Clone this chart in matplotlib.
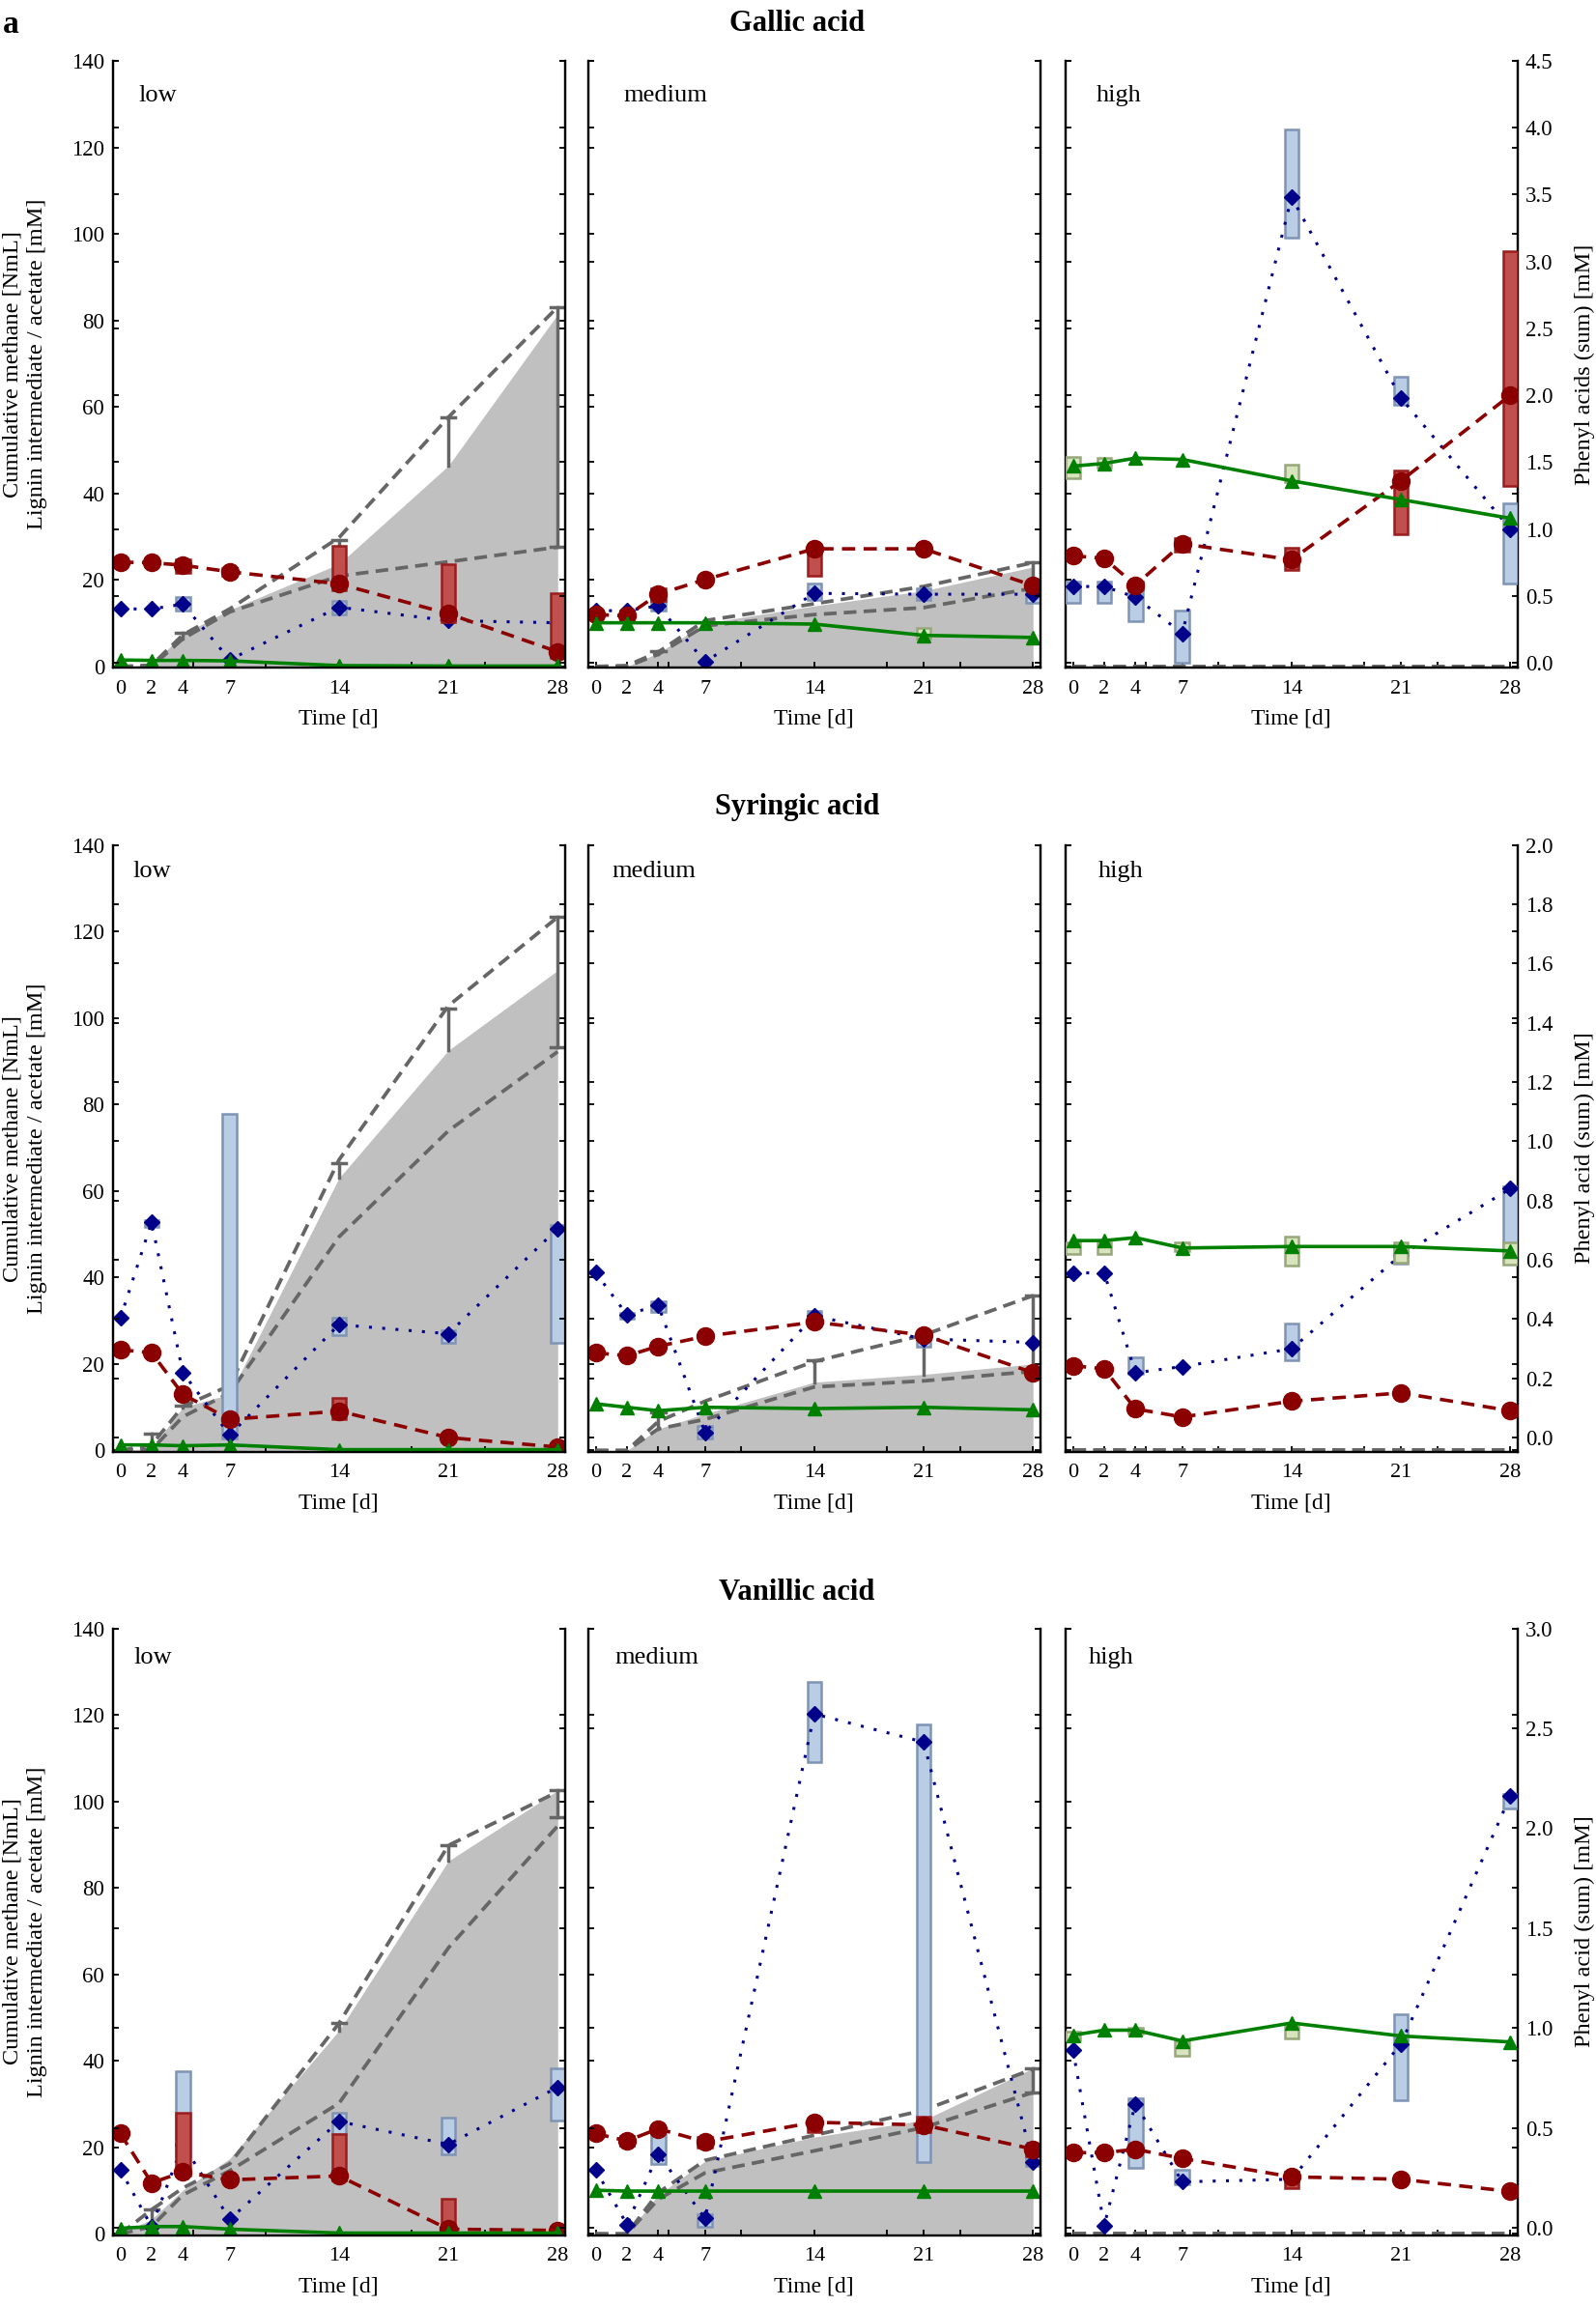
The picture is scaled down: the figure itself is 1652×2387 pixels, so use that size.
import numpy as np
import matplotlib.pyplot as plt

plt.rcParams['font.family'] = ['Liberation Serif', 'DejaVu Serif']

days = [0, 2, 4, 7, 14, 21, 28]
acids = ['Gallic acid', 'Syringic acid', 'Vanillic acid']
levels = ['low', 'medium', 'high']
right_names = ['Phenyl acids (sum) [mM]', 'Phenyl acid (sum) [mM]', 'Phenyl acid (sum) [mM]']
left_ticks = [0, 20, 40, 60, 80, 100, 120, 140]
right_ticks_gal = [0.0, 0.5, 1.0, 1.5, 2.0, 2.5, 3.0, 3.5, 4.0, 4.5]
right_ticks_syr = [0.0, 0.2, 0.4, 0.6, 0.8, 1.0, 1.2, 1.4, 1.6, 1.8, 2.0]
right_ticks_van = [0.0, 0.5, 1.0, 1.5, 2.0, 2.5, 3.0]
zeros = [0, 0, 0, 0, 0, 0, 0]

# ---- Gallic acid ----
gal_low_fill = [0, 0.3, 7.5, 13.1, 23.7, 46.4, 81.4]
gal_low_hi = [0, 0.3, 7.3, 13.3, 29.8, 57.6, 83.1]
gal_low_lo = [0, 0, 6.4, 12.6, 20.9, 24.2, 27.6]
gal_low_err = [(4, 6.4, 7.9), (14, 23.7, 29.2), (21, 46.4, 57.6), (28, 27.6, 83.1)]
gal_low_red = [24.1, 24.0, 23.4, 21.9, 19.1, 12.2, 3.4]
gal_low_red_box = [(4, 21.7, 24.7), (7, 21.0, 22.7), (14, 17.6, 27.9), (21, 10.3, 23.7), (28, 2.0, 17.0)]
gal_low_blue = [13.3, 13.3, 14.4, 1.6, 13.7, 10.6, 10.1]
gal_low_blue_box = [(4, 13.0, 16.0), (14, 12.0, 15.2)]
gal_low_green = [1.5, 1.4, 1.4, 1.3, 0.2, 0.1, 0.1]
gal_low_green_box = []

gal_med_fill = [0, 0, 3.1, 10.0, 14.0, 17.5, 23.0]
gal_med_hi = [0, 0.2, 3.3, 10.6, 14.5, 18.5, 24.0]
gal_med_lo = [0, 0, 2.8, 9.4, 12.0, 13.6, 18.1]
gal_med_err = [(4, 2.8, 3.6), (28, 18.1, 24.2)]
gal_med_red = [12.0, 11.7, 16.7, 20.1, 27.2, 27.2, 18.7]
gal_med_red_box = [(4, 15.1, 18.1), (14, 20.9, 27.6)]
gal_med_blue = [12.9, 12.9, 14.0, 1.1, 16.9, 16.7, 16.7]
gal_med_blue_box = [(4, 12.9, 14.9), (14, 15.3, 19.2), (21, 15.3, 18.1), (28, 14.7, 18.6)]
gal_med_green = [10.1, 10.1, 10.1, 10.1, 9.8, 7.2, 6.7]
gal_med_green_box = [(21, 6.4, 8.9)]

gal_high_red = [0.80, 0.78, 0.58, 0.89, 0.77, 1.36, 2.00]
gal_high_red_box = [(4, 0.55, 0.61), (7, 0.83, 0.93), (14, 0.69, 0.86), (21, 0.96, 1.44), (28, 1.32, 3.08)]
gal_high_blue = [0.57, 0.57, 0.49, 0.22, 3.48, 1.98, 1.00]
gal_high_blue_box = [(0, 0.45, 0.61), (2, 0.45, 0.61), (4, 0.31, 0.54), (7, 0.0, 0.39),
                     (14, 3.18, 3.99), (21, 1.93, 2.14), (28, 0.59, 1.19)]
gal_high_green = [1.47, 1.49, 1.53, 1.52, 1.36, 1.22, 1.08]
gal_high_green_box = [(0, 1.38, 1.54), (2, 1.46, 1.53), (14, 1.35, 1.48)]

# ---- Syringic acid ----
syr_low_fill = [0, 0.5, 10.0, 13.0, 63.0, 92.5, 111.0]
syr_low_hi = [0, 1.3, 10.2, 15.0, 67.2, 102.8, 123.3]
syr_low_lo = [0, 0.2, 7.8, 13.3, 49.4, 73.9, 92.2]
syr_low_err = [(2, 0.5, 3.9), (4, 10.0, 10.4), (14, 63.0, 66.4), (21, 92.5, 102.2), (28, 93.3, 123.3)]
syr_low_red = [23.3, 22.6, 13.0, 7.2, 9.1, 3.0, 0.8]
syr_low_red_box = [(14, 7.2, 12.2)]
syr_low_blue = [30.6, 52.8, 18.0, 3.6, 29.1, 27.0, 51.3]
syr_low_blue_box = [(2, 51.7, 53.3), (7, 2.8, 77.8), (14, 26.7, 30.6), (21, 25.0, 27.8), (28, 25.0, 52.2)]
syr_low_green = [1.3, 1.3, 1.1, 1.3, 0.2, 0.2, 0.2]
syr_low_green_box = []

syr_med_fill = [0, 0, 5.0, 8.5, 15.8, 17.6, 20.0]
syr_med_hi = [0, 0, 6.7, 11.4, 20.6, 26.7, 35.8]
syr_med_lo = [0, 0, 5.0, 7.2, 14.7, 16.1, 18.3]
syr_med_err = [(4, 5.0, 8.9), (14, 15.8, 20.9), (21, 17.6, 27.2), (28, 18.3, 35.8)]
syr_med_red = [22.6, 21.9, 24.1, 26.4, 29.7, 26.7, 18.0]
syr_med_red_box = []
syr_med_blue = [41.1, 31.4, 33.6, 4.2, 31.1, 25.8, 25.0]
syr_med_blue_box = [(2, 30.5, 31.9), (4, 32.0, 34.4), (7, 2.8, 5.6), (14, 29.4, 32.2), (21, 23.9, 27.2)]
syr_med_green = [10.8, 10.0, 9.2, 10.0, 9.7, 10.0, 9.4]
syr_med_green_box = []

syr_high_red = [0.243, 0.232, 0.097, 0.070, 0.123, 0.151, 0.091]
syr_high_red_box = []
syr_high_blue = [0.556, 0.556, 0.219, 0.240, 0.30, 0.616, 0.84]
syr_high_blue_box = [(4, 0.216, 0.27), (14, 0.26, 0.386), (21, 0.586, 0.646), (28, 0.589, 0.848)]
syr_high_green = [0.665, 0.665, 0.675, 0.64, 0.645, 0.645, 0.63]
syr_high_green_box = [(0, 0.62, 0.66), (2, 0.62, 0.66), (7, 0.63, 0.66), (14, 0.58, 0.68),
                      (21, 0.59, 0.66), (28, 0.585, 0.66)]

# ---- Vanillic acid ----
van_low_fill = [0, 3.4, 10.1, 17.4, 47.0, 86.2, 102.5]
van_low_hi = [0, 5.6, 10.6, 16.2, 48.7, 89.8, 102.2]
van_low_lo = [0, 1.7, 9.0, 14.6, 30.2, 66.1, 94.3]
van_low_err = [(2, 3.4, 5.6), (14, 47.0, 48.7), (21, 86.2, 89.8), (28, 96.3, 102.5)]
van_low_red = [23.2, 11.8, 14.3, 12.5, 13.4, 1.1, 0.8]
van_low_red_box = [(4, 13.4, 28.0), (14, 12.3, 23.0), (21, 0.2, 8.1), (28, 0.2, 1.7)]
van_low_blue = [14.8, 1.7, 20.7, 3.4, 26.0, 20.7, 33.9]
van_low_blue_box = [(4, 18.0, 37.5), (14, 23.0, 28.0), (21, 18.5, 26.9), (28, 26.3, 38.3)]
van_low_green = [1.3, 1.7, 1.7, 1.1, 0.2, 0.2, 0.2]
van_low_green_box = []

van_med_fill = [0, 0, 9.0, 16.8, 22.4, 26.3, 38.3]
van_med_hi = [0, 0, 9.5, 17.0, 22.8, 28.6, 38.1]
van_med_lo = [0, 0, 8.0, 14.1, 19.2, 24.6, 32.7]
van_med_err = [(28, 32.7, 38.3)]
van_med_red = [23.2, 21.5, 24.3, 21.3, 25.8, 25.2, 19.6]
van_med_red_box = [(2, 20.5, 22.7), (7, 20.0, 22.4), (14, 23.5, 26.3), (21, 23.5, 27.2), (28, 17.9, 20.7)]
van_med_blue = [14.8, 2.2, 18.5, 3.6, 120.2, 113.7, 16.6]
van_med_blue_box = [(4, 16.2, 23.0), (7, 1.7, 4.5), (14, 109.0, 127.7), (21, 16.5, 117.8), (28, 15.7, 17.9)]
van_med_green = [10.1, 9.9, 9.9, 9.9, 9.9, 9.9, 9.9]
van_med_green_box = []

van_high_red = [0.376, 0.376, 0.393, 0.347, 0.255, 0.243, 0.182]
van_high_red_box = [(14, 0.20, 0.28)]
van_high_blue = [0.89, 0.012, 0.62, 0.23, 0.243, 0.92, 2.16]
van_high_blue_box = [(4, 0.30, 0.65), (7, 0.22, 0.29), (21, 0.64, 1.07), (28, 2.10, 2.17)]
van_high_green = [0.964, 0.989, 0.989, 0.935, 1.025, 0.96, 0.93]
van_high_green_box = [(0, 0.94, 0.98), (4, 0.97, 1.0), (7, 0.86, 0.935), (14, 0.95, 1.01)]

# panel table: (fill, hi, lo, err, red, redbox, blue, bluebox, green, greenbox)
panels = [
    [(gal_low_fill, gal_low_hi, gal_low_lo, gal_low_err, gal_low_red, gal_low_red_box,
      gal_low_blue, gal_low_blue_box, gal_low_green, gal_low_green_box),
     (gal_med_fill, gal_med_hi, gal_med_lo, gal_med_err, gal_med_red, gal_med_red_box,
      gal_med_blue, gal_med_blue_box, gal_med_green, gal_med_green_box),
     (zeros, zeros, zeros, [], gal_high_red, gal_high_red_box,
      gal_high_blue, gal_high_blue_box, gal_high_green, gal_high_green_box)],
    [(syr_low_fill, syr_low_hi, syr_low_lo, syr_low_err, syr_low_red, syr_low_red_box,
      syr_low_blue, syr_low_blue_box, syr_low_green, syr_low_green_box),
     (syr_med_fill, syr_med_hi, syr_med_lo, syr_med_err, syr_med_red, syr_med_red_box,
      syr_med_blue, syr_med_blue_box, syr_med_green, syr_med_green_box),
     (zeros, zeros, zeros, [], syr_high_red, syr_high_red_box,
      syr_high_blue, syr_high_blue_box, syr_high_green, syr_high_green_box)],
    [(van_low_fill, van_low_hi, van_low_lo, van_low_err, van_low_red, van_low_red_box,
      van_low_blue, van_low_blue_box, van_low_green, van_low_green_box),
     (van_med_fill, van_med_hi, van_med_lo, van_med_err, van_med_red, van_med_red_box,
      van_med_blue, van_med_blue_box, van_med_green, van_med_green_box),
     (zeros, zeros, zeros, [], van_high_red, van_high_red_box,
      van_high_blue, van_high_blue_box, van_high_green, van_high_green_box)],
]
right_ticks = [right_ticks_gal, right_ticks_syr, right_ticks_van]
right_bottom = [-0.036, -0.047, -0.036]

GREY = '#666666'
RED = '#8b0000'
BLUE = '#00008b'
GREEN = '#008000'

W, H = 1652, 2387
fig = plt.figure(figsize=(W / 100, H / 100), dpi=100)

lefts = [116.5, 608.5, 1102.5]
tops = [63, 874.6, 1685.5]
pw, ph = 468, 628
title_y = [24, 836, 1648]
lab_x = [[0.058, 0.078, 0.069], [0.045, 0.054, 0.073], [0.047, 0.06, 0.052]]
lab_y = [0.943, 0.956, 0.952]


def draw_boxes(ax, data, face, edge, z):
    if len(data) == 0:
        return
    x = [d[0] for d in data]
    lo = np.array([d[1] for d in data])
    hi = np.array([d[2] for d in data])
    ax.bar(x, hi - lo, bottom=lo, width=0.9, color=face, edgecolor=edge, linewidth=1.8, zorder=z)


for r in range(3):
    for c in range(3):
        fill, hi, lo, err, red, redbox, blue, bluebox, green, greenbox = panels[r][c]
        ax = fig.add_axes([lefts[c] / W, 1 - (tops[r] + ph) / H, pw / W, ph / H])
        tw = ax.twinx()

        # methane
        ax.fill_between(days, 0, fill, color='#c0c0c0', lw=0, zorder=1)
        ax.plot(days, hi, color=GREY, lw=2.7, ls=(0, (3.5, 2)), zorder=2)
        ax.plot(days, lo, color=GREY, lw=2.7, ls=(0, (3.5, 2)), zorder=2)
        for x, a, b in err:
            ax.plot([x, x], [a, b], color=GREY, lw=2.5, zorder=2.5)
            ax.plot([x - 0.45, x + 0.45], [b, b], color=GREY, lw=2.5, zorder=2.5)
            if x == days[-1]:
                ax.plot([x - 0.45, x + 0.45], [a, a], color=GREY, lw=2.5, zorder=2.5)

        tgt = tw if c == 2 else ax
        draw_boxes(tgt, bluebox, '#b9cde5', '#7f93b4', 3)
        tgt.plot(days, blue, color=BLUE, lw=2.2, ls=(0, (1, 3.5)), marker='D', ms=8, zorder=4)
        draw_boxes(tgt, redbox, '#c0504d', '#9b1c1c', 5)
        tgt.plot(days, red, color=RED, lw=2.6, ls=(0, (3.8, 2.4)), marker='o', ms=13, zorder=6)
        draw_boxes(tgt, greenbox, '#d7e4bd', '#98a77a', 7)
        tgt.plot(days, green, color=GREEN, lw=2.6, marker='^', ms=10, zorder=8)

        ax.set_xlim(-0.5, 28.45)
        ax.set_ylim(-0.25, 140)
        rt = right_ticks[r]
        tw.set_ylim(right_bottom[r], rt[-1])
        ax.set_xticks(days)
        ax.set_xticks(np.linspace(0, 28, 7), minor=True)
        ax.set_yticks(left_ticks)
        tw.set_yticks(rt)
        tw.set_yticklabels(['%.1f' % v for v in rt])

        ax.tick_params(axis='x', which='major', direction='in', length=4, width=1.3,
                       labelsize=16, pad=9, top=False)
        ax.tick_params(axis='x', which='minor', direction='in', length=4, width=1.3, top=False)
        ax.tick_params(axis='y', direction='in', length=4, width=1.3, left=True, right=True,
                       labelleft=(c == 0), labelright=False, labelsize=16.5, pad=6)
        tw.tick_params(axis='y', direction='in', length=4, width=1.3, left=True, right=True,
                       labelleft=False, labelright=(c == 2), labelsize=16.5, pad=6)
        for a in (ax, tw):
            a.spines['top'].set_visible(False)
            for s in ['left', 'right', 'bottom']:
                a.spines[s].set_linewidth(1.6)
        ax.set_xlabel('Time [d]', fontsize=17, labelpad=8)
        ax.text(lab_x[r][c], lab_y[r], levels[c], transform=ax.transAxes,
                fontsize=19, va='center', ha='left')

    yc = 1 - (tops[r] + ph / 2) / H
    fig.text(825 / W, 1 - title_y[r] / H, acids[r], ha='center', va='center',
             fontsize=22, fontweight='bold')
    fig.text(26 / W, yc, 'Cumulative methane [NmL]\nLignin intermediate / acetate [mM]',
             rotation=90, ha='center', va='center', fontsize=17.5, linespacing=1.3)
    fig.text(1640 / W, yc, right_names[r], rotation=90, ha='center', va='center', fontsize=17.5)

fig.text(3 / W, 1 - 26 / H, 'a', fontsize=24, fontweight='bold', ha='left', va='center')

fig.savefig('out.png', dpi=100)
